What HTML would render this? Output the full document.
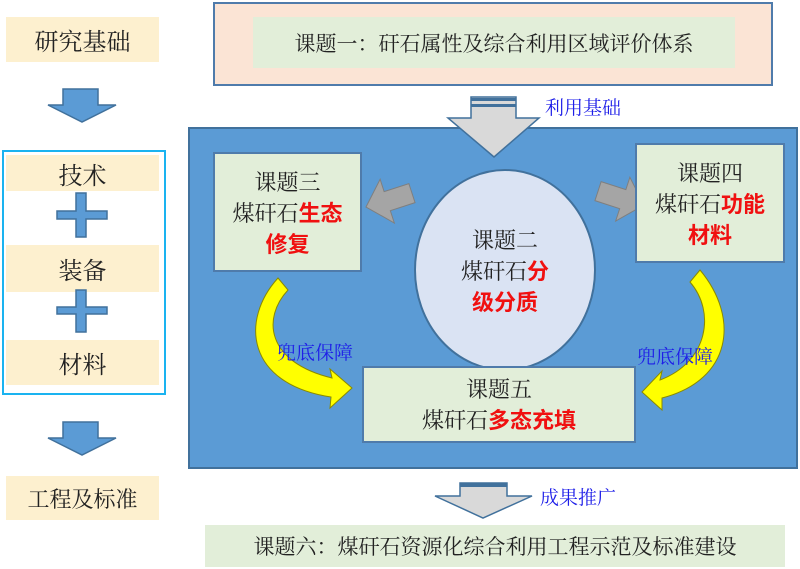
<!DOCTYPE html>
<html><head><meta charset="utf-8"><style>
*{margin:0;padding:0;box-sizing:border-box}
body{width:800px;height:569px;background:#fff;position:relative;overflow:hidden;font-family:"Liberation Serif","Noto Serif CJK SC","Noto Sans CJK SC",serif;}
.a{position:absolute}
.lb{background:#fdf0cf;display:flex;align-items:center;justify-content:center;font-size:24px;color:#222;font-family:"Noto Serif CJK SC",serif}
.gb{background:#e2eed9;border:2px solid #4f7bab;display:flex;flex-direction:column;align-items:center;justify-content:center;font-size:22px;line-height:30px;color:#222;text-align:center;font-family:"Noto Serif CJK SC",serif}
.r{color:#f01010;font-family:"Noto Sans CJK SC",sans-serif;font-weight:bold}
.bl{color:#1e1ee8;font-size:19px;font-family:"Noto Serif CJK SC",serif}
</style></head><body>
<div class="a lb" style="left:6px;top:17px;width:153px;height:45px">研究基础</div>
<div class="a" style="left:2px;top:150px;width:164px;height:245px;border:2px solid #1ab3f0"></div>
<div class="a lb" style="left:6px;top:155px;width:153px;height:36px">技术</div>
<div class="a lb" style="left:6px;top:245px;width:153px;height:47px">装备</div>
<div class="a lb" style="left:6px;top:340px;width:153px;height:45px">材料</div>
<div class="a lb" style="left:6px;top:476px;width:153px;height:44px;font-size:22px">工程及标准</div>
<svg class="a" style="left:0;top:0" width="800" height="569">
<g fill="#5b9bd5" stroke="#41719c" stroke-width="1.5">
<path d="M63 89H98V105H116L82 122L48 105H63Z"/>
<path d="M63 422H98V438H116L82 455L48 438H63Z"/>
<path d="M76 193H86V211H107V219H86V237H76V219H57V211H76Z"/>
<path d="M76 290H86V307H107V314H86V332H76V314H57V307H76Z"/>
</g>
<rect x="189" y="128" width="608" height="340" fill="#5b9bd5" stroke="#41719c" stroke-width="2"/>
<path d="M471 97H516V118H539L494 157L448 118H471Z" fill="#d9d9d9" stroke="#41719c" stroke-width="1.5"/>
<rect x="471" y="98" width="45" height="3" fill="#41719c"/><rect x="471" y="104" width="45" height="3" fill="#41719c"/>
<path d="M460 483H507V496H532L483 518L435 496H460Z" fill="#d9d9d9" stroke="#41719c" stroke-width="1.5"/>
<rect x="460" y="483" width="47" height="4" fill="#41719c"/>
<ellipse cx="505" cy="270" rx="90" ry="100" fill="#dae3f3" stroke="#41719c" stroke-width="2"/>
<g transform="translate(366,207) rotate(-18)"><path d="M0 0L22 -22V-9H48V11H22V24Z" fill="#a5a5a5" stroke="#7f7f7f"/></g>
<g transform="translate(644,205) rotate(18)"><path d="M0 0L-22 -22V-9H-48V11H-22V24Z" fill="#a5a5a5" stroke="#7f7f7f"/></g>
<path d="M278 278L288 290C262 318 266 362 332 378L330 369L352 388L330 408L331 397C246 384 240 320 278 278Z" fill="#ffff00" stroke="#8a8a00"/>
<path d="M700 270L690 282C716 312 708 362 660 380L662 371L642 392L662 410L662 398C732 380 740 318 700 270Z" fill="#ffff00" stroke="#8a8a00"/>
</svg>
<div class="a" style="left:213px;top:2px;width:560px;height:84px;background:#fbe4d5;border:2px solid #4f7bab"></div>
<div class="a" style="left:253px;top:17px;width:482px;height:51px;background:#e2eed9;display:flex;align-items:center;justify-content:center;font-size:21px;color:#222;font-family:'Noto Serif CJK SC',serif">课题一：矸石属性及综合利用区域评价体系</div>
<div class="a bl" style="left:545px;top:93px">利用基础</div>
<div class="a gb" style="left:213px;top:152px;width:149px;height:120px">课题三<span>煤矸石<span class="r">生态</span></span><span class="r">修复</span></div>
<div class="a gb" style="left:635px;top:143px;width:150px;height:120px">课题四<span>煤矸石<span class="r">功能</span></span><span class="r">材料</span></div>
<div class="a" style="left:415px;top:170px;width:180px;height:200px;display:flex;flex-direction:column;align-items:center;justify-content:center;font-size:22px;line-height:31px;color:#222;font-family:'Noto Serif CJK SC',serif">课题二<span>煤矸石<span class="r">分</span></span><span class="r">级分质</span></div>
<div class="a gb" style="left:362px;top:366px;width:274px;height:77px">课题五<span>煤矸石<span class="r">多态充填</span></span></div>
<div class="a bl" style="left:277px;top:338px">兜底保障</div>
<div class="a bl" style="left:637px;top:342px">兜底保障</div>
<div class="a bl" style="left:540px;top:483px">成果推广</div>
<div class="a" style="left:205px;top:525px;width:580px;height:42px;background:#e2eed9;display:flex;align-items:center;justify-content:center;font-size:21px;color:#222;font-family:'Noto Serif CJK SC',serif">课题六：煤矸石资源化综合利用工程示范及标准建设</div>
</body></html>
